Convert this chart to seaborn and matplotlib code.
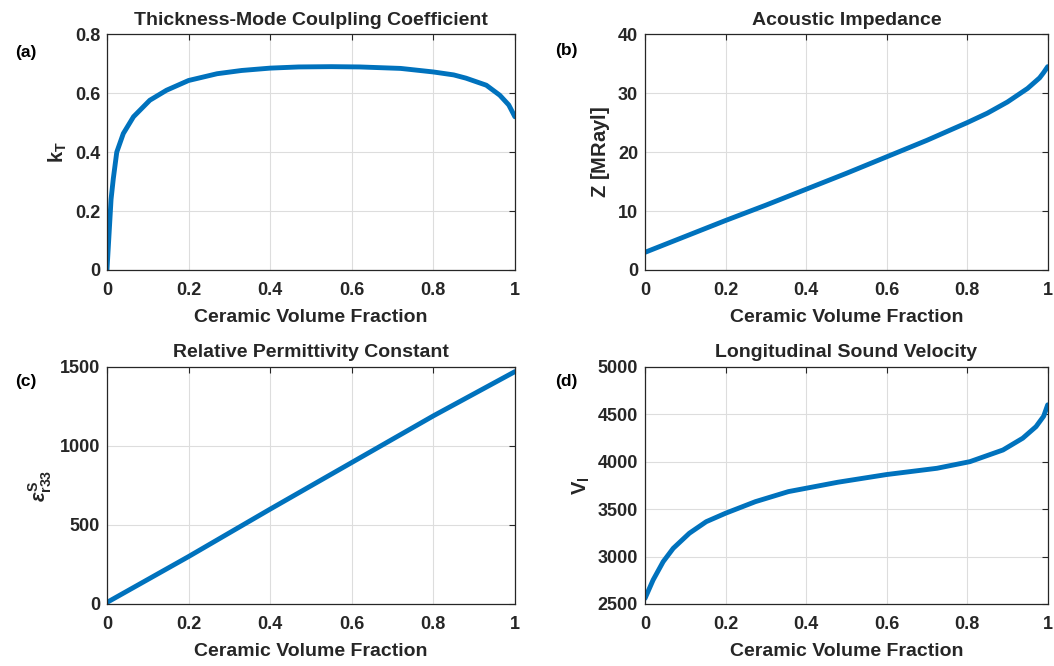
import numpy as np
import pandas as pd
import matplotlib
matplotlib.use("Agg")
import matplotlib.pyplot as plt
import seaborn as sns

# ---- data ----
kt_x = [0.0, 0.005, 0.01, 0.0155, 0.024, 0.04, 0.065, 0.105, 0.146, 0.2, 0.27, 0.33, 0.4, 0.47,
        0.55, 0.62, 0.72, 0.8, 0.85, 0.88, 0.93, 0.963, 0.985, 1.0]
kt_y = [0.0, 0.12, 0.24, 0.31, 0.40, 0.463, 0.52, 0.576, 0.61, 0.643, 0.666, 0.677, 0.685, 0.689,
        0.690, 0.689, 0.684, 0.672, 0.662, 0.651, 0.627, 0.593, 0.56, 0.52]

z_x = [0.0, 0.1, 0.2, 0.3, 0.4, 0.5, 0.6, 0.7, 0.8, 0.85, 0.9, 0.95, 0.98, 0.99, 1.0]
z_y = [3.0, 5.7, 8.4, 11.0, 13.7, 16.4, 19.2, 22.0, 25.0, 26.6, 28.5, 30.8, 32.6, 33.5, 34.5]

eps_x = [0.0, 0.2, 0.4, 0.6, 0.8, 1.0]
eps_y = [10, 300, 600, 895, 1190, 1470]

v_x = [0.0, 0.02, 0.045, 0.07, 0.11, 0.152, 0.2, 0.274, 0.356, 0.479, 0.6, 0.725, 0.807,
       0.889, 0.938, 0.971, 0.99, 1.0]
v_y = [2560, 2753, 2946, 3087, 3246, 3368, 3457, 3579, 3685, 3784, 3865, 3931, 4001,
       4124, 4248, 4370, 4480, 4600]

titles = ["Thickness-Mode Coulpling Coefficient", "Acoustic Impedance",
          "Relative Permittivity Constant", "Longitudinal Sound Velocity"]
ylabels = [r"$\mathbf{k_T}$", r"$\mathbf{Z\ [MRayl]}$",
           r"$\epsilon_{\mathbf{r33}}^{\mathbf{S}}$", r"$\mathbf{V_l}$"]
panel_labels = ["(a)", "(b)", "(c)", "(d)"]
xlabel = "Ceramic Volume Fraction"
x_ticks = [0, 0.2, 0.4, 0.6, 0.8, 1]
x_ticklabels = ["0", "0.2", "0.4", "0.6", "0.8", "1"]
y_ticks = [[0, 0.2, 0.4, 0.6, 0.8], [0, 10, 20, 30, 40],
           [0, 500, 1000, 1500], [2500, 3000, 3500, 4000, 4500, 5000]]
y_ticklabels = [["0", "0.2", "0.4", "0.6", "0.8"], ["0", "10", "20", "30", "40"],
                ["0", "500", "1000", "1500"], ["2500", "3000", "3500", "4000", "4500", "5000"]]
y_lims = [(0, 0.8), (0, 40), (0, 1500), (2500, 5000)]

sns.set_style("whitegrid")
plt.rcParams["font.family"] = ["Liberation Sans", "DejaVu Sans"]
plt.rcParams["font.weight"] = "bold"
plt.rcParams["mathtext.fontset"] = "custom"
plt.rcParams["mathtext.rm"] = "Liberation Sans:bold"
plt.rcParams["mathtext.bf"] = "Liberation Sans:bold"
plt.rcParams["mathtext.it"] = "Liberation Sans:italic"

fig = plt.figure(figsize=(10.54, 6.66), dpi=100)
positions = [
    (0.1015, 0.5946, 0.387, 0.354),
    (0.612, 0.5946, 0.382, 0.354),
    (0.1015, 0.0931, 0.387, 0.356),
    (0.612, 0.0931, 0.382, 0.356),
]
label_pos = [(0.014, 0.915), (0.527, 0.918), (0.014, 0.42), (0.527, 0.42)]
data = [(kt_x, kt_y), (z_x, z_y), (eps_x, eps_y), (v_x, v_y)]
color = "#0072BD"

for i in range(4):
    ax = fig.add_axes(positions[i])
    df = pd.DataFrame({"x": data[i][0], "y": data[i][1]})
    sns.lineplot(data=df, x="x", y="y", ax=ax, color=color, linewidth=3.5)
    ax.set_xlim(0, 1)
    ax.set_ylim(*y_lims[i])
    ax.set_xticks(x_ticks)
    ax.set_xticklabels(x_ticklabels)
    ax.set_yticks(y_ticks[i])
    ax.set_yticklabels(y_ticklabels[i])
    ax.set_title(titles[i], fontsize=14, fontweight="bold", pad=7)
    ax.set_xlabel(xlabel, fontsize=14, fontweight="bold", labelpad=7)
    ax.set_ylabel(ylabels[i], fontsize=14.5, labelpad=4)
    ax.tick_params(axis="x", pad=9)
    ax.tick_params(axis="y", pad=5)
    ax.tick_params(axis="both", labelsize=13, direction="in", length=4,
                   top=True, right=True, color="#262626")
    for lab in ax.get_xticklabels() + ax.get_yticklabels():
        lab.set_fontweight("bold")
        lab.set_color("#262626")
    ax.grid(True, color="#DDDDDD", linewidth=0.8)
    for s in ax.spines.values():
        s.set_color("#262626")
        s.set_linewidth(0.9)
    fig.text(label_pos[i][0], label_pos[i][1], panel_labels[i],
             fontsize=12.5, fontweight="bold", color="#000000")

fig.savefig("out.png", dpi=100, facecolor="white")
